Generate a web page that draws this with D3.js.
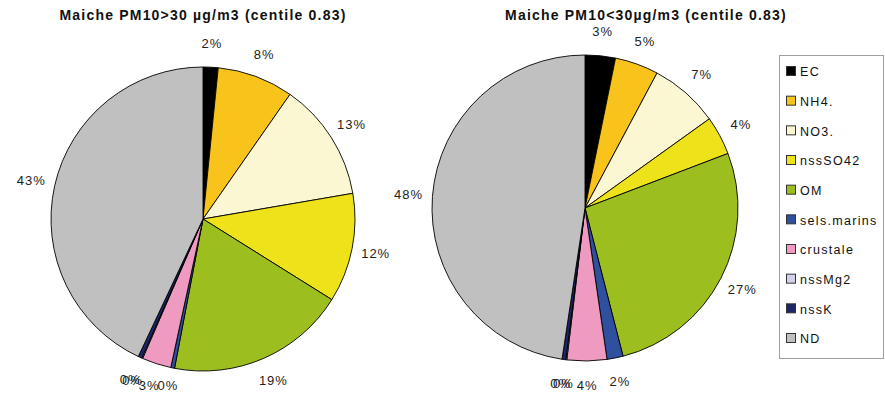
<!DOCTYPE html>
<html>
<head>
<meta charset="utf-8">
<script src="https://cdn.jsdelivr.net/npm/d3@7"></script>
<style>
  html, body { margin: 0; padding: 0; background: #fff; }
  svg { display: block; }
  text { font-family: "Liberation Sans", Arial, sans-serif; }
</style>
</head>
<body>
<svg id="chart" width="885" height="394"></svg>
<script>
// Components of PM10 composition
const categories = ["EC", "NH4.", "NO3.", "nssSO42", "OM", "sels.marins", "crustale", "nssMg2", "nssK", "ND"];
const colors = ["#000000", "#F8C41C", "#FBF7D2", "#EEE31B", "#9CBF1F", "#2F4F9F", "#EF9BC1", "#D2D1EC", "#1B2567", "#C0C0C0"];

// Share of each component (%), PM10 > 30 µg/m3
const valuesHigh = [1.6, 8.1, 12.6, 11.6, 19.1, 0.4, 3.1, 0.1, 0.4, 43.0];
// Share of each component (%), PM10 < 30 µg/m3
const valuesLow = [3.2, 4.6, 7.3, 4.1, 26.8, 1.7, 4.2, 0.1, 0.4, 47.6];

const titles = ["Maiche PM10>30 µg/m3 (centile 0.83)", "Maiche PM10<30µg/m3 (centile 0.83)"];

const svg = d3.select("#chart");

const pies = [
  { values: valuesHigh, cx: 203, cy: 219, r: 152, title: titles[0], tx: 203 },
  { values: valuesLow,  cx: 585, cy: 208, r: 153, title: titles[1], tx: 646 }
];

const pieGen = d3.pie().sort(null).value(d => d);

pies.forEach(p => {
  const g = svg.append("g").attr("transform", `translate(${p.cx},${p.cy})`);
  const arcs = pieGen(p.values);
  const arc = d3.arc().innerRadius(0).outerRadius(p.r);
  const labelArc = d3.arc().innerRadius(p.r + 24).outerRadius(p.r + 24);

  g.selectAll("path.slice")
    .data(arcs)
    .enter().append("path")
    .attr("class", "slice")
    .attr("d", arc)
    .attr("fill", (d, i) => colors[i])
    .attr("stroke", "#000")
    .attr("stroke-width", 0.9)
    .attr("stroke-linejoin", "round");

  // keep the bottom labels inside the drawing area
  const maxY = 385 - p.cy;
  g.selectAll("text.lbl")
    .data(arcs)
    .enter().append("text")
    .attr("class", "lbl")
    .attr("transform", d => {
      const [x, y] = labelArc.centroid(d);
      return `translate(${x},${Math.min(y, maxY)})`;
    })
    .attr("text-anchor", "middle")
    .attr("dy", "0.35em")
    .attr("font-size", 13)
    .attr("letter-spacing", 1)
    .attr("fill", "#222")
    .text(d => Math.round(d.data) + "%");

  svg.append("text")
    .attr("x", p.tx)
    .attr("y", 20)
    .attr("text-anchor", "middle")
    .attr("font-size", 14)
    .attr("font-weight", "bold")
    .attr("letter-spacing", 1.2)
    .attr("fill", "#111")
    .text(p.title);
});

// Legend
const legend = svg.append("g");
legend.append("rect")
  .attr("x", 779.5).attr("y", 55.5)
  .attr("width", 104).attr("height", 303)
  .attr("fill", "#fff")
  .attr("stroke", "#a0a0a0");

const ly = d3.scalePoint().domain(categories).range([72, 339]);

const items = legend.selectAll("g.item")
  .data(categories)
  .enter().append("g")
  .attr("class", "item")
  .attr("transform", d => `translate(786,${ly(d)})`);

items.append("rect")
  .attr("x", 0.5).attr("y", -5.5)
  .attr("width", 9).attr("height", 9)
  .attr("fill", (d, i) => colors[i])
  .attr("stroke", "#333")
  .attr("stroke-width", 1);

items.append("text")
  .attr("x", 14)
  .attr("y", 0)
  .attr("dy", "0.35em")
  .attr("font-size", 12.5)
  .attr("letter-spacing", 1.3)
  .attr("fill", "#111")
  .text(d => d);
</script>
</body>
</html>
